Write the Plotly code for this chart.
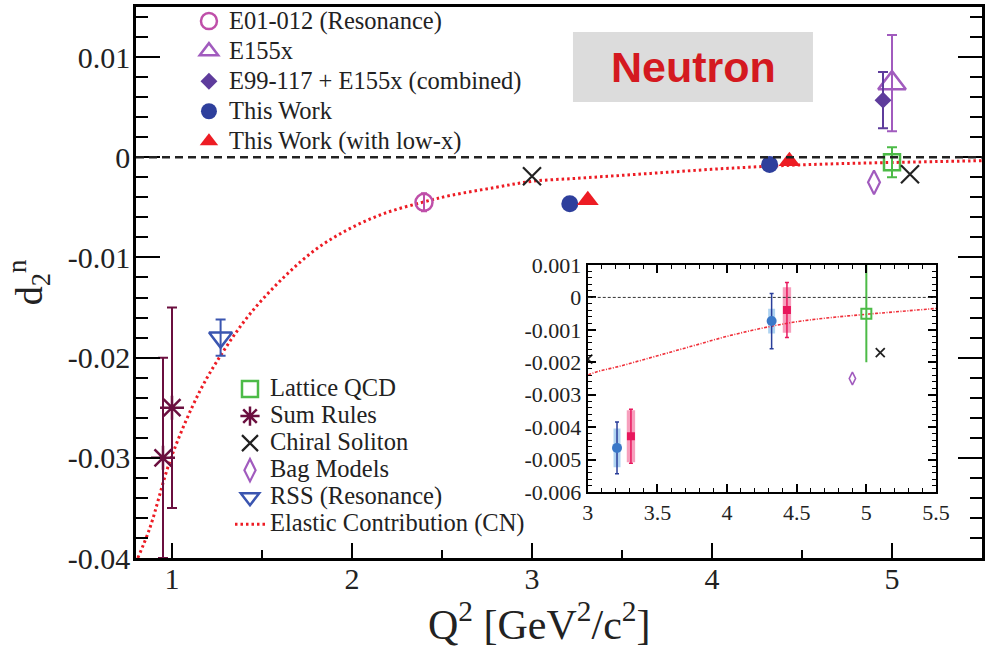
import plotly.graph_objects as go

# ---------------- data: d2 of the neutron vs Q^2 ----------------
# E01-012 (resonance region)
e01_q2 = [2.40]
e01_d2 = [-0.0045]
e01_err = [0.0009]

# E155x
e155_q2 = [5.0]
e155_d2 = [0.0074]
e155_err = [0.0048]

# E99-117 + E155x combined
comb_q2 = [4.95]
comb_d2 = [0.0057]
comb_err = [0.0028]

# This work
tw_q2 = [3.21, 4.32]
tw_d2 = [-0.00464, -0.00073]
tw_stat = [0.00080, 0.00085]
tw_sys = [0.00060, 0.00038]

# This work, including the low-x extrapolation
twlx_q2 = [3.31, 4.43]
twlx_d2 = [-0.00428, -0.00039]
twlx_stat = [0.00083, 0.00085]
twlx_sys = [0.00080, 0.00070]

# Theory / model predictions
lat_q2 = [5.0]
lat_d2 = [-0.0005]
lat_err = [0.0015]

sum_q2 = [0.95, 1.0]
sum_d2 = [-0.030, -0.025]
sum_err = [0.010, 0.010]

chiral_q2 = [3.0, 5.1]
chiral_d2 = [-0.0019, -0.0017]

bag_q2 = [4.9]
bag_d2 = [-0.0025]

rss_q2 = [1.27]
rss_d2 = [-0.0180]
rss_err = [0.0018]

# Elastic contribution (CN)
el_q2 = [0.81, 0.877, 0.995, 1.156, 1.295, 1.435, 1.62, 1.806, 1.99, 2.18,
         2.39, 2.55, 2.8, 3.0, 3.25, 3.5, 3.75, 4.0, 4.25, 4.5, 4.75, 5.0,
         5.25, 5.5]
el_d2 = [-0.040, -0.037, -0.030, -0.0233, -0.0191, -0.0156, -0.0120,
         -0.0091, -0.0071, -0.0056, -0.0045, -0.0038, -0.0030, -0.0024,
         -0.0021, -0.0018, -0.0015, -0.0012, -0.00095, -0.00075, -0.00062,
         -0.00052, -0.00043, -0.00034]

# axis ticks
x_ticks = [1, 2, 3, 4, 5]
x_ticktext = ["1", "2", "3", "4", "5"]
y_ticks = [-0.04, -0.03, -0.02, -0.01, 0, 0.01]
y_ticktext = ["-0.04", "-0.03", "-0.02", "-0.01", "0", "0.01"]
ix_ticks = [3, 3.5, 4, 4.5, 5, 5.5]
ix_ticktext = ["3", "3.5", "4", "4.5", "5", "5.5"]
iy_ticks = [-0.006, -0.005, -0.004, -0.003, -0.002, -0.001, 0, 0.001]
iy_ticktext = ["-0.006", "-0.005", "-0.004", "-0.003", "-0.002", "-0.001",
               "0", "0.001"]

# ---------------- styles ----------------
SERIF = "Liberation Serif"
INK = "#222222"
C_E01 = "#bf4fa9"
C_E155 = "#a15bbe"
C_COMB = "#5e3c9c"
C_TW = "#2e3f9c"
C_RED = "#ed1c24"
C_LAT = "#4cbb47"
C_SUM = "#6b0f3f"
C_CHI = "#222222"
C_BAG = "#a15bbe"
C_RSS = "#3a55b0"
C_IN_BLUE = "#3a78c8"
C_IN_BLUE_BAR = "#2a3e9a"
C_IN_RED = "#e8175d"

LEG_TEXT = 24.5


def label(text, size=LEG_TEXT):
    return f'<span style="font-size:{size}px">{text}</span>'


def errs(vals, color, width=5, thick=2):
    return dict(type="data", array=vals, color=color, width=width,
                thickness=thick, visible=True)


fig = go.Figure()

# ---------------- main panel ----------------
fig.add_trace(go.Scatter(
    x=el_q2, y=el_d2, mode="lines", line_shape="spline",
    line=dict(color=C_RED, width=3, dash="2.5px,3px"),
    name=label("Elastic Contribution (CN)"), legend="legend2",
    legendrank=6))

fig.add_trace(go.Scatter(
    x=e01_q2, y=e01_d2, mode="markers", error_y=errs(e01_err, C_E01, 3),
    marker=dict(symbol="circle-open", size=17, color=C_E01,
                line=dict(width=2.5, color=C_E01)),
    name=label("E01-012 (Resonance)"), legendrank=1))

fig.add_trace(go.Scatter(
    x=e155_q2, y=e155_d2, mode="markers", error_y=errs(e155_err, C_E155),
    marker=dict(symbol="triangle-up-open", size=24, color=C_E155,
                line=dict(width=2.5, color=C_E155)),
    name=label("E155x"), legendrank=2))

fig.add_trace(go.Scatter(
    x=comb_q2, y=comb_d2, mode="markers", error_y=errs(comb_err, C_COMB),
    marker=dict(symbol="diamond", size=13, color=C_COMB),
    name=label("E99-117 + E155x (combined)"), legendrank=3))

fig.add_trace(go.Scatter(
    x=tw_q2, y=tw_d2, mode="markers",
    marker=dict(symbol="circle", size=17, color=C_TW),
    name=label("This Work"), legendrank=4))

fig.add_trace(go.Scatter(
    x=twlx_q2, y=twlx_d2, mode="markers",
    marker=dict(symbol="triangle-up", size=19, color=C_RED),
    name=label("This Work (with low-x)"), legendrank=5))

fig.add_trace(go.Scatter(
    x=lat_q2, y=lat_d2, mode="markers", error_y=errs(lat_err, C_LAT),
    marker=dict(symbol="square-open", size=16, color=C_LAT,
                line=dict(width=2.5, color=C_LAT)),
    name=label("Lattice QCD"), legend="legend2", legendrank=1))

fig.add_trace(go.Scatter(
    x=sum_q2, y=sum_d2, mode="markers", error_y=errs(sum_err, C_SUM),
    marker=dict(symbol="asterisk-open", size=20, color=C_SUM,
                line=dict(width=2.5, color=C_SUM)),
    name=label("Sum Rules"), legend="legend2", legendrank=2))

fig.add_trace(go.Scatter(
    x=chiral_q2, y=chiral_d2, mode="markers",
    marker=dict(symbol="x-thin-open", size=18, color=C_CHI,
                line=dict(width=2.2, color=C_CHI)),
    name=label("Chiral Soliton"), legend="legend2", legendrank=3))

fig.add_trace(go.Scatter(
    x=bag_q2, y=bag_d2, mode="markers",
    marker=dict(symbol="diamond-tall-open", size=17, color=C_BAG,
                line=dict(width=2.2, color=C_BAG)),
    name=label("Bag Models"), legend="legend2", legendrank=4))

fig.add_trace(go.Scatter(
    x=rss_q2, y=rss_d2, mode="markers", error_y=errs(rss_err, C_RSS),
    marker=dict(symbol="triangle-down-open", size=20, color=C_RSS,
                line=dict(width=2.5, color=C_RSS)),
    name=label("RSS (Resonance)"), legend="legend2", legendrank=5))

# ---------------- inset panel ----------------
# systematic bands as bars spanning value +/- sys
fig.add_trace(go.Bar(
    x=tw_q2, y=[2 * s for s in tw_sys],
    base=[v - s for v, s in zip(tw_d2, tw_sys)], width=0.05,
    marker=dict(color="rgba(110,175,230,0.55)", line=dict(width=0)),
    xaxis="x2", yaxis="y2", showlegend=False))
fig.add_trace(go.Bar(
    x=twlx_q2, y=[2 * s for s in twlx_sys],
    base=[v - s for v, s in zip(twlx_d2, twlx_sys)], width=0.06,
    marker=dict(color="rgba(240,80,135,0.55)", line=dict(width=0)),
    xaxis="x2", yaxis="y2", showlegend=False))

fig.add_trace(go.Scatter(
    x=el_q2, y=el_d2, mode="lines", line_shape="spline",
    line=dict(color="#f0303a", width=1.6, dash="3px,1.5px,1px,1.5px"),
    xaxis="x2", yaxis="y2", showlegend=False))

fig.add_trace(go.Scatter(
    x=tw_q2, y=tw_d2, mode="markers",
    error_y=errs(tw_stat, C_IN_BLUE_BAR, 2, 1.5),
    marker=dict(symbol="circle", size=10, color=C_IN_BLUE),
    xaxis="x2", yaxis="y2", showlegend=False))
fig.add_trace(go.Scatter(
    x=twlx_q2, y=twlx_d2, mode="markers",
    error_y=errs(twlx_stat, C_IN_RED, 2, 1.5),
    marker=dict(symbol="square", size=8, color=C_IN_RED),
    xaxis="x2", yaxis="y2", showlegend=False))
fig.add_trace(go.Scatter(
    x=lat_q2, y=lat_d2, mode="markers",
    error_y=errs(lat_err, C_LAT, 0, 2),
    marker=dict(symbol="square-open", size=10, color=C_LAT,
                line=dict(width=2, color=C_LAT)),
    xaxis="x2", yaxis="y2", showlegend=False))
fig.add_trace(go.Scatter(
    x=chiral_q2, y=chiral_d2, mode="markers",
    marker=dict(symbol="x-thin-open", size=9, color=C_CHI,
                line=dict(width=1.8, color=C_CHI)),
    xaxis="x2", yaxis="y2", showlegend=False))
fig.add_trace(go.Scatter(
    x=bag_q2, y=bag_d2, mode="markers",
    marker=dict(symbol="diamond-tall-open", size=9, color=C_BAG,
                line=dict(width=1.6, color=C_BAG)),
    xaxis="x2", yaxis="y2", showlegend=False))

# ---------------- reference lines ----------------
fig.add_shape(type="line", xref="x domain", yref="y", x0=0, x1=1, y0=0, y1=0,
              line=dict(color=INK, width=2.5, dash="8px,5px"))
fig.add_shape(type="line", xref="x2 domain", yref="y2", x0=0, x1=1, y0=0,
              y1=0, line=dict(color="#333333", width=1, dash="3px,2px"))

# ---------------- "Neutron" label ----------------
fig.add_shape(type="rect", xref="paper", yref="paper", x0=0.5165, x1=0.8002,
              y0=0.8276, y1=0.9546, fillcolor="#dcdcdc", line=dict(width=0),
              layer="below")
fig.add_annotation(xref="paper", yref="paper", x=0.6585, y=0.891,
                   xanchor="center", yanchor="middle",
                   text="<b>Neutron</b>", showarrow=False,
                   font=dict(family="Liberation Sans", size=43,
                             color="#d41920"))

# x-axis title, placed a little left of the axis centre
fig.add_annotation(xref="paper", yref="paper", x=0.4775, y=-0.1155,
                   xanchor="center", yanchor="middle", showarrow=False,
                   text="Q<sup>2</sup> [GeV<sup>2</sup>/c<sup>2</sup>]",
                   font=dict(family=SERIF, size=42, color=INK))

# ---------------- axes ----------------
axis_common = dict(showline=True, linecolor="black", showgrid=False,
                   zeroline=False, ticks="inside", tickcolor="black")

fig.update_layout(
    width=990, height=648,
    margin=dict(l=136, r=8, t=7, b=90, autoexpand=False),
    plot_bgcolor="white", paper_bgcolor="white",
    font=dict(family=SERIF, color=INK),
    barmode="overlay",
    xaxis=dict(**axis_common, range=[0.8, 5.5], mirror=True, linewidth=2.5,
               tickmode="array", tickvals=x_ticks, ticktext=x_ticktext,
               ticklen=15, tickwidth=2, ticklabelstandoff=-8,
               minor=dict(ticks="inside", ticklen=8, tickwidth=2,
                          dtick=0.5, tick0=0, tickcolor="black"),
               tickfont=dict(family=SERIF, size=30, color=INK)),
    yaxis=dict(**axis_common, range=[-0.04, 0.015], mirror="allticks",
               linewidth=2.5, tickmode="array", tickvals=y_ticks,
               ticktext=y_ticktext, ticklen=24, tickwidth=2,
               ticklabelstandoff=-3,
               minor=dict(ticks="inside", ticklen=12, tickwidth=2,
                          dtick=0.002, tick0=0, tickcolor="black"),
               tickfont=dict(family=SERIF, size=30, color=INK),
               title=dict(text="d<sub>2</sub><sup>n</sup>",
                          font=dict(family=SERIF, size=38, color=INK),
                          standoff=14)),
    xaxis2=dict(**axis_common, domain=[0.534, 0.9456], anchor="y2",
                range=[3, 5.5], mirror="allticks", linewidth=2,
                tickmode="array", tickvals=ix_ticks, ticktext=ix_ticktext,
                ticklen=8, tickwidth=1.5,
                minor=dict(ticks="inside", ticklen=4, tickwidth=1.2,
                           dtick=0.1, tick0=0, tickcolor="black"),
                tickfont=dict(family=SERIF, size=22, color=INK)),
    yaxis2=dict(**axis_common, domain=[0.1198, 0.5318], anchor="x2",
                range=[-0.006, 0.001], mirror="allticks", linewidth=2,
                tickmode="array", tickvals=iy_ticks, ticktext=iy_ticktext,
                ticklen=8, tickwidth=1.5,
                minor=dict(ticks="inside", ticklen=4, tickwidth=1.2,
                           dtick=0.0002, tick0=0, tickcolor="black"),
                tickfont=dict(family=SERIF, size=22, color=INK)),
    legend=dict(x=0.0626, y=1.0107, xanchor="left", yanchor="top",
                bgcolor="rgba(0,0,0,0)", borderwidth=0,
                font=dict(family=SERIF, size=20.8, color=INK),
                traceorder="normal", itemwidth=30),
    legend2=dict(x=0.1111, y=0.3403, xanchor="left", yanchor="top",
                 bgcolor="rgba(0,0,0,0)", borderwidth=0,
                 font=dict(family=SERIF, size=18.5, color=INK),
                 traceorder="normal", itemwidth=30),
    showlegend=True,
)

fig.write_html("out.html")
